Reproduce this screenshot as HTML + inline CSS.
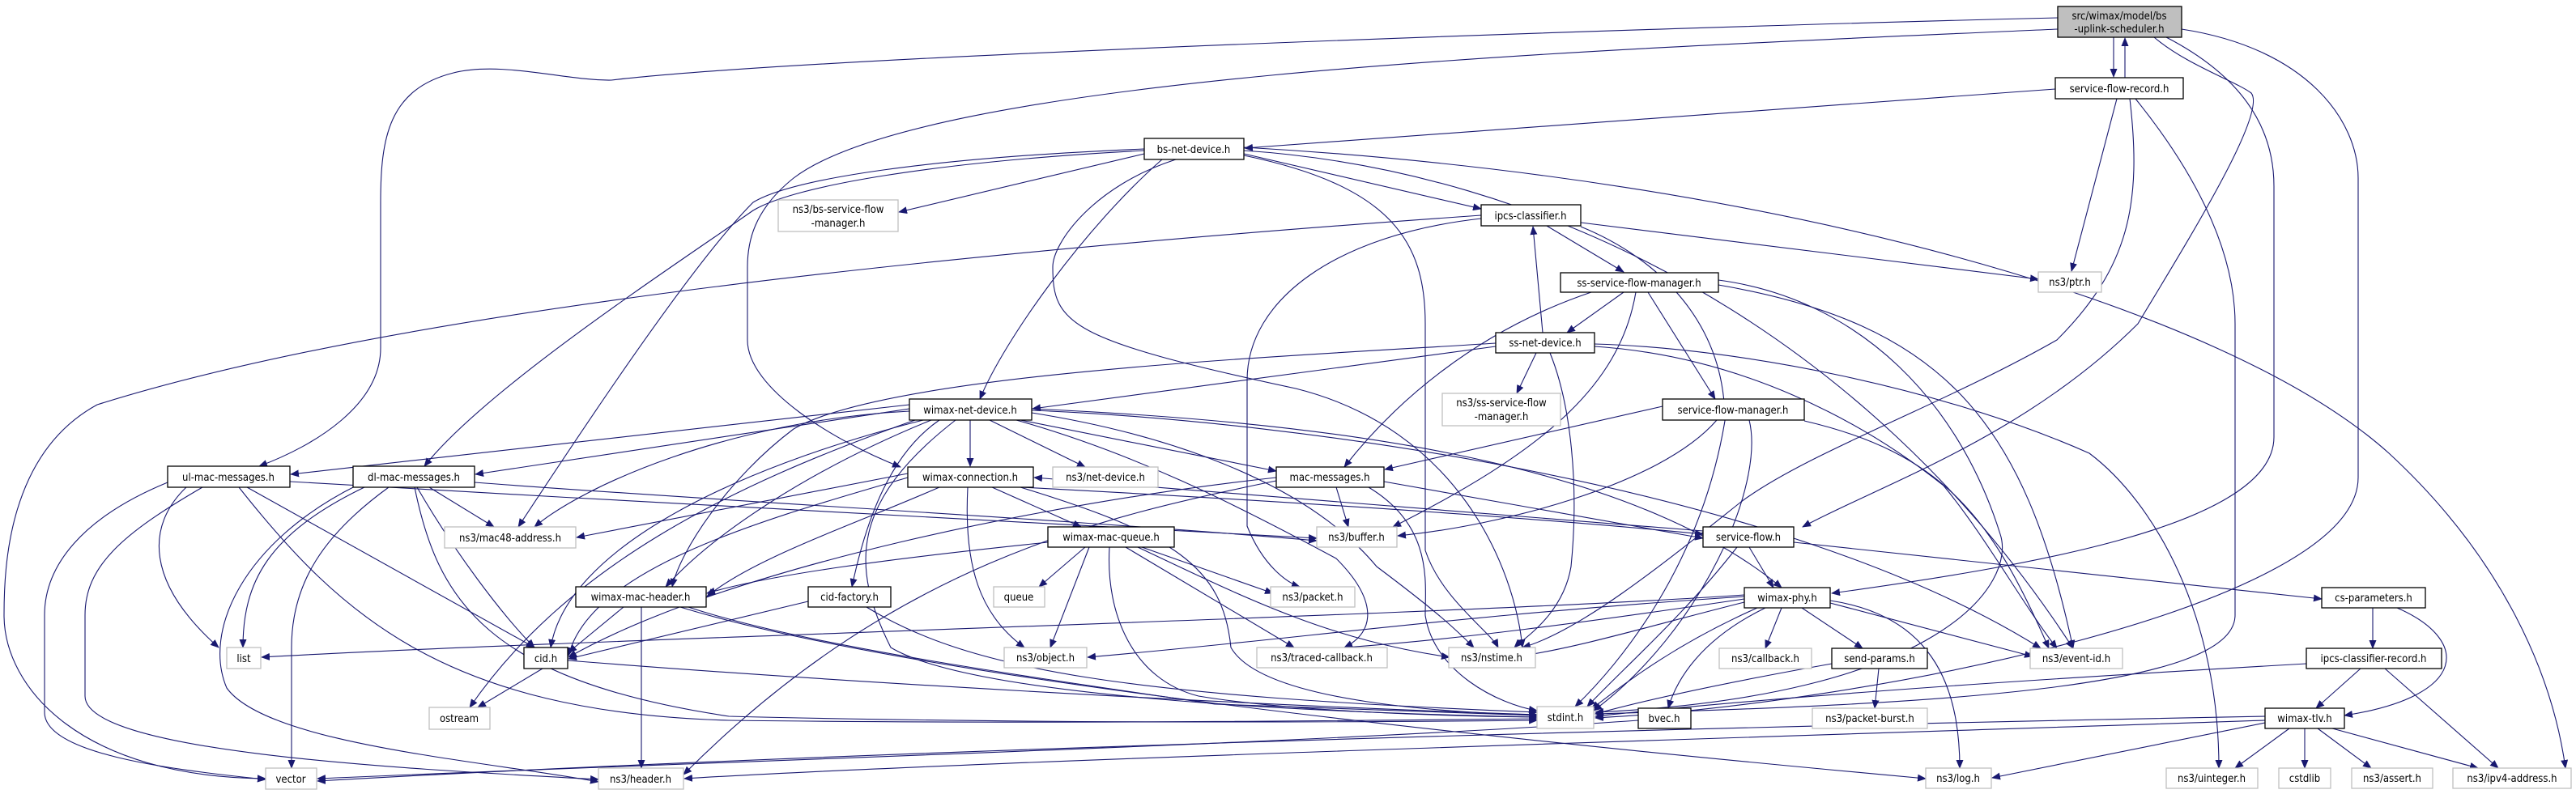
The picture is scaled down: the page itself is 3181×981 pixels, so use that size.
<!DOCTYPE html>
<html><head><meta charset="utf-8">
<style>
html,body{margin:0;padding:0;background:#fff;}
svg{display:block;}
text{font-family:"DejaVu Sans Condensed","DejaVu Sans","Liberation Sans",sans-serif;font-size:13px;fill:#000;}
.e{fill:none;stroke:#191970;stroke-width:1.1;marker-end:url(#a);}
.n{fill:#fff;stroke:#000;stroke-width:1.3;}
.g{fill:#fff;stroke:#bfbfbf;stroke-width:1.3;}
</style></head>
<body>
<svg width="3181" height="981" viewBox="0 0 3181 981" xmlns="http://www.w3.org/2000/svg">
<defs><marker id="a" markerWidth="11" markerHeight="9" refX="10" refY="4.5" orient="auto" markerUnits="userSpaceOnUse"><path d="M0,0 L11,4.5 L0,9z" fill="#191970"/></marker></defs>

<g>
<path class="e" d="M2610,46 L2610,95"/>
<path class="e" d="M2624,96 L2624,47"/>
<path class="e" d="M2541,22 C2000,35 1000,70 755,99 C700,100 620,75 560,90 C480,110 470,170 470,250 L470,430 C470,500 390,550 320,576"/>
<path class="e" d="M2541,36 C2000,60 1150,90 980,220 C930,260 923,300 923,330 L923,420 C923,480 1030,545 1112,577"/>
<path class="e" d="M2660,46 C2700,80 2760,100 2780,115 C2800,140 2700,300 2640,400 C2500,540 2320,600 2226,651"/>
<path class="e" d="M2675,46 C2760,90 2808,150 2808,230 L2808,540 C2808,650 2500,700 2262,733"/>
<path class="e" d="M2694,36 C2850,60 2912,150 2912,220 L2912,590 C2912,750 2300,870 1970,887"/>
<path class="e" d="M2538,110 L1537,183"/>
<path class="e" d="M2614,122 L2558,335"/>
<path class="e" d="M2630,122 C2645,250 2630,330 2540,420 C2400,500 2230,560 2150,620 C2050,700 1950,780 1880,800"/>
<path class="e" d="M2637,122 C2700,200 2760,300 2760,400 L2760,760 C2760,850 2400,870 1970,882"/>
<path class="e" d="M1413,190 L1110,262"/>
<path class="e" d="M1413,186 C1150,200 980,230 930,260 C830,330 600,480 524,576"/>
<path class="e" d="M1413,184 C1150,195 980,220 930,250 C850,330 700,560 640,651"/>
<path class="e" d="M1435,197 C1340,280 1240,420 1210,493"/>
<path class="e" d="M1536,190 L1829,258"/>
<path class="e" d="M1536,192 C1720,230 1760,300 1760,400 L1760,680 C1780,740 1840,780 1850,800"/>
<path class="e" d="M1536,186 C1900,210 2300,400 2560,801"/>
<path class="e" d="M1536,182 C2200,220 2750,380 2950,560 C3080,680 3150,820 3168,949"/>
<path class="e" d="M1452,197 C1350,230 1300,300 1300,330 C1300,400 1320,420 1600,480 C1800,530 1870,700 1880,800"/>
<path class="e" d="M1829,266 C1200,310 500,380 120,500 C10,560 5,700 5,760 C5,850 100,960 328,962"/>
<path class="e" d="M1829,270 C1650,290 1540,370 1540,470 L1540,650 C1560,700 1590,720 1605,725"/>
<path class="e" d="M1910,279 L2005,336"/>
<path class="e" d="M1952,275 L2517,345"/>
<path class="e" d="M1952,280 C2050,320 2130,400 2130,520 C2100,700 2000,820 1945,873"/>
<path class="e" d="M2005,361 L1935,411"/>
<path class="e" d="M1965,361 C1820,410 1720,500 1660,577"/>
<path class="e" d="M2020,361 C2000,480 1900,560 1720,651"/>
<path class="e" d="M2035,361 L2118,493"/>
<path class="e" d="M2122,352 C2400,400 2500,520 2560,801"/>
<path class="e" d="M2122,346 C2300,370 2420,500 2470,660 C2490,720 2400,860 1970,880"/>
<path class="e" d="M1905,411 L1893,280"/>
<path class="e" d="M1847,428 L1275,505"/>
<path class="e" d="M1897,436 L1873,486"/>
<path class="e" d="M1914,436 C1940,500 1950,600 1940,700 C1930,760 1880,790 1870,800"/>
<path class="e" d="M1847,424 C1600,440 1100,460 980,530 C900,590 840,680 830,725"/>
<path class="e" d="M1969,425 C2150,430 2400,480 2580,560 C2660,620 2740,760 2740,949"/>
<path class="e" d="M1969,428 C2150,440 2300,520 2400,600 C2450,660 2500,750 2540,801"/>
<path class="e" d="M2053,502 L1710,580"/>
<path class="e" d="M2120,519 C2050,600 1850,650 1726,662"/>
<path class="e" d="M2228,520 C2400,560 2460,640 2530,801"/>
<path class="e" d="M2160,519 C2180,600 2100,780 1968,878"/>
<path class="e" d="M1123,500 L359,586"/>
<path class="e" d="M1123,505 L587,586"/>
<path class="e" d="M1123,508 C900,520 720,600 660,651"/>
<path class="e" d="M1198,519 L1198,576"/>
<path class="e" d="M1222,519 L1340,577"/>
<path class="e" d="M1260,519 L1576,582"/>
<path class="e" d="M1160,519 C1100,560 1070,640 1052,725"/>
<path class="e" d="M1150,519 C1000,580 880,660 822,725"/>
<path class="e" d="M1140,519 C900,580 700,680 680,800"/>
<path class="e" d="M1130,519 C900,600 700,700 580,874"/>
<path class="e" d="M1274,510 C1400,530 1600,580 1700,700 C1780,760 1800,780 1820,800"/>
<path class="e" d="M1274,505 C1600,520 2000,560 2200,726"/>
<path class="e" d="M1274,507 C1600,520 2200,600 2520,801"/>
<path class="e" d="M1255,519 C1400,560 1520,620 1650,690 C1700,740 1700,780 1660,800"/>
<path class="e" d="M1180,519 C1050,620 1050,700 1100,800 C1200,860 1600,880 1898,886"/>
<path class="e" d="M358,595 C800,620 1300,650 1626,665"/>
<path class="e" d="M230,602 C180,650 180,720 270,800"/>
<path class="e" d="M305,602 L660,800"/>
<path class="e" d="M207,596 C100,640 55,700 55,760 L55,880 C55,930 200,950 328,963"/>
<path class="e" d="M250,602 C150,660 105,700 105,760 L105,860 C105,930 500,950 739,963"/>
<path class="e" d="M295,602 C420,760 550,880 900,890 C1300,895 1700,890 1898,888"/>
<path class="e" d="M530,602 L610,651"/>
<path class="e" d="M450,602 C330,660 300,720 300,800"/>
<path class="e" d="M480,602 C400,660 360,720 360,800 L360,949"/>
<path class="e" d="M515,602 C560,680 620,760 660,800"/>
<path class="e" d="M512,602 C540,740 600,840 900,885 C1300,895 1700,892 1898,890"/>
<path class="e" d="M440,600 C300,670 250,780 280,850 C330,920 600,940 739,966"/>
<path class="e" d="M586,596 C900,620 1300,640 1626,668"/>
<path class="e" d="M1225,602 L1335,651"/>
<path class="e" d="M1195,602 C1190,700 1210,760 1265,800"/>
<path class="e" d="M1262,602 C1600,620 1900,640 2103,660"/>
<path class="e" d="M1121,590 C950,640 730,700 702,810"/>
<path class="e" d="M1121,585 L712,664"/>
<path class="e" d="M1160,602 C1050,650 930,690 873,737"/>
<path class="e" d="M1260,602 C1450,660 1510,700 1520,800 C1560,870 1800,880 1898,884"/>
<path class="e" d="M2103,656 L1277,590"/>
<path class="e" d="M1650,602 L1665,651"/>
<path class="e" d="M1709,595 L2103,665"/>
<path class="e" d="M1690,602 C1770,650 1760,720 1760,760 C1770,830 1850,870 1898,878"/>
<path class="e" d="M1576,590 C1300,620 900,700 702,812"/>
<path class="e" d="M1576,594 C1350,640 1100,700 844,957"/>
<path class="e" d="M1340,676 L1283,725"/>
<path class="e" d="M1345,676 L1297,800"/>
<path class="e" d="M1410,676 L1572,733"/>
<path class="e" d="M1390,676 L1598,800"/>
<path class="e" d="M1405,676 C1540,740 1640,790 1790,812"/>
<path class="e" d="M1370,676 C1365,760 1400,840 1480,860 C1600,880 1800,885 1898,886"/>
<path class="e" d="M1294,670 C1100,690 950,710 873,733"/>
<path class="e" d="M770,750 L702,806"/>
<path class="e" d="M792,750 L792,949"/>
<path class="e" d="M850,750 C1000,800 1300,840 1500,870 C1800,880 1880,884 1898,884"/>
<path class="e" d="M840,750 C1100,830 1700,900 2378,962"/>
<path class="e" d="M998,743 L702,814"/>
<path class="e" d="M1070,750 C1200,830 1400,860 1898,880"/>
<path class="e" d="M670,826 L590,874"/>
<path class="e" d="M701,816 C1000,840 1500,870 1898,883"/>
<path class="e" d="M2160,676 L2190,726"/>
<path class="e" d="M2215,670 L2867,740"/>
<path class="e" d="M2145,676 C2080,760 2000,830 1960,873"/>
<path class="e" d="M2154,735 C1800,760 700,790 323,812"/>
<path class="e" d="M2154,737 C1800,760 1600,790 1343,812"/>
<path class="e" d="M2154,740 C1950,770 1800,790 1660,800"/>
<path class="e" d="M2154,744 C2050,770 1950,800 1880,810"/>
<path class="e" d="M2200,751 L2180,801"/>
<path class="e" d="M2225,751 L2300,801"/>
<path class="e" d="M2260,745 L2510,811"/>
<path class="e" d="M2170,751 C2060,800 2000,850 1965,876"/>
<path class="e" d="M2180,751 C2100,790 2070,840 2060,875"/>
<path class="e" d="M2260,742 C2380,760 2420,840 2420,949"/>
<path class="e" d="M2930,751 L2930,801"/>
<path class="e" d="M2960,751 C3050,790 3050,860 2895,884"/>
<path class="e" d="M2915,826 L2860,875"/>
<path class="e" d="M2945,826 L3085,949"/>
<path class="e" d="M2848,820 C2500,840 2200,860 1970,885"/>
<path class="e" d="M2320,826 L2315,875"/>
<path class="e" d="M2262,820 C2150,840 2050,860 1970,882"/>
<path class="e" d="M2023,890 C1600,920 900,940 392,962"/>
<path class="e" d="M2797,885 C2000,900 1000,930 392,965"/>
<path class="e" d="M2797,890 C2200,910 1200,940 845,962"/>
<path class="e" d="M2797,893 L2460,961"/>
<path class="e" d="M2827,900 L2760,949"/>
<path class="e" d="M2846,900 L2846,949"/>
<path class="e" d="M2862,900 L2928,949"/>
<path class="e" d="M2880,900 L3060,949"/>
</g>

<g>
<rect x="2541" y="8" width="153" height="38" fill="#bfbfbf" stroke="#000" stroke-width="1.3"/>
<text x="2617" y="24" text-anchor="middle">src/wimax/model/bs</text>
<text x="2617" y="40" text-anchor="middle">-uplink-scheduler.h</text>
<rect class="n" x="2538" y="96" width="158" height="26"/><text x="2617" y="114" text-anchor="middle">service-flow-record.h</text>
<rect class="n" x="1413" y="171" width="123" height="26"/><text x="1474" y="189" text-anchor="middle">bs-net-device.h</text>
<rect class="g" x="961" y="247" width="148" height="39"/><text x="1035" y="263" text-anchor="middle">ns3/bs-service-flow</text><text x="1035" y="280" text-anchor="middle">-manager.h</text>
<rect class="n" x="1829" y="253" width="123" height="26"/><text x="1890" y="271" text-anchor="middle">ipcs-classifier.h</text>
<rect class="g" x="2517" y="336" width="78" height="25"/><text x="2556" y="353" text-anchor="middle">ns3/ptr.h</text>
<rect class="n" x="1927" y="337" width="195" height="24"/><text x="2024" y="354" text-anchor="middle">ss-service-flow-manager.h</text>
<rect class="n" x="1847" y="411" width="122" height="25"/><text x="1908" y="428" text-anchor="middle">ss-net-device.h</text>
<rect class="g" x="1781" y="486" width="146" height="40"/><text x="1854" y="502" text-anchor="middle">ns3/ss-service-flow</text><text x="1854" y="519" text-anchor="middle">-manager.h</text>
<rect class="n" x="2053" y="493" width="175" height="26"/><text x="2140" y="511" text-anchor="middle">service-flow-manager.h</text>
<rect class="n" x="1123" y="493" width="151" height="26"/><text x="1198" y="511" text-anchor="middle">wimax-net-device.h</text>
<rect class="n" x="207" y="576" width="151" height="26"/><text x="282" y="594" text-anchor="middle">ul-mac-messages.h</text>
<rect class="n" x="436" y="576" width="150" height="26"/><text x="511" y="594" text-anchor="middle">dl-mac-messages.h</text>
<rect class="n" x="1121" y="577" width="155" height="25"/><text x="1198" y="594" text-anchor="middle">wimax-connection.h</text>
<rect class="g" x="1300" y="577" width="130" height="25"/><text x="1365" y="594" text-anchor="middle">ns3/net-device.h</text>
<rect class="n" x="1576" y="577" width="133" height="25"/><text x="1642" y="594" text-anchor="middle">mac-messages.h</text>
<rect class="g" x="549" y="651" width="162" height="26"/><text x="630" y="669" text-anchor="middle">ns3/mac48-address.h</text>
<rect class="n" x="1294" y="651" width="156" height="25"/><text x="1372" y="668" text-anchor="middle">wimax-mac-queue.h</text>
<rect class="g" x="1626" y="651" width="99" height="25"/><text x="1675" y="668" text-anchor="middle">ns3/buffer.h</text>
<rect class="n" x="2103" y="651" width="112" height="25"/><text x="2159" y="668" text-anchor="middle">service-flow.h</text>
<rect class="n" x="711" y="725" width="161" height="25"/><text x="791" y="742" text-anchor="middle">wimax-mac-header.h</text>
<rect class="n" x="998" y="725" width="102" height="25"/><text x="1049" y="742" text-anchor="middle">cid-factory.h</text>
<rect class="g" x="1227" y="725" width="63" height="25"/><text x="1258" y="742" text-anchor="middle">queue</text>
<rect class="g" x="1569" y="725" width="104" height="25"/><text x="1621" y="742" text-anchor="middle">ns3/packet.h</text>
<rect class="n" x="2154" y="726" width="106" height="25"/><text x="2207" y="743" text-anchor="middle">wimax-phy.h</text>
<rect class="n" x="2867" y="726" width="128" height="25"/><text x="2931" y="743" text-anchor="middle">cs-parameters.h</text>
<rect class="g" x="280" y="800" width="42" height="26"/><text x="301" y="818" text-anchor="middle">list</text>
<rect class="n" x="647" y="800" width="54" height="26"/><text x="674" y="818" text-anchor="middle">cid.h</text>
<rect class="g" x="1240" y="800" width="102" height="25"/><text x="1291" y="817" text-anchor="middle">ns3/object.h</text>
<rect class="g" x="1552" y="800" width="161" height="25"/><text x="1632" y="817" text-anchor="middle">ns3/traced-callback.h</text>
<rect class="g" x="1789" y="800" width="107" height="25"/><text x="1842" y="817" text-anchor="middle">ns3/nstime.h</text>
<rect class="g" x="2123" y="801" width="114" height="25"/><text x="2180" y="818" text-anchor="middle">ns3/callback.h</text>
<rect class="n" x="2262" y="801" width="118" height="25"/><text x="2321" y="818" text-anchor="middle">send-params.h</text>
<rect class="g" x="2507" y="801" width="114" height="25"/><text x="2564" y="818" text-anchor="middle">ns3/event-id.h</text>
<rect class="n" x="2848" y="801" width="167" height="25"/><text x="2931" y="818" text-anchor="middle">ipcs-classifier-record.h</text>
<rect class="g" x="530" y="874" width="75" height="27"/><text x="567" y="892" text-anchor="middle">ostream</text>
<rect class="g" x="1898" y="873" width="70" height="27"/><text x="1933" y="891" text-anchor="middle">stdint.h</text>
<rect class="n" x="2023" y="875" width="65" height="25"/><text x="2055" y="892" text-anchor="middle">bvec.h</text>
<rect class="g" x="2238" y="875" width="142" height="25"/><text x="2309" y="892" text-anchor="middle">ns3/packet-burst.h</text>
<rect class="n" x="2797" y="875" width="98" height="25"/><text x="2846" y="892" text-anchor="middle">wimax-tlv.h</text>
<rect class="g" x="328" y="949" width="63" height="26"/><text x="359" y="967" text-anchor="middle">vector</text>
<rect class="g" x="739" y="949" width="105" height="26"/><text x="791" y="967" text-anchor="middle">ns3/header.h</text>
<rect class="g" x="2378" y="949" width="81" height="25"/><text x="2418" y="966" text-anchor="middle">ns3/log.h</text>
<rect class="g" x="2675" y="949" width="113" height="25"/><text x="2731" y="966" text-anchor="middle">ns3/uinteger.h</text>
<rect class="g" x="2814" y="949" width="64" height="25"/><text x="2846" y="966" text-anchor="middle">cstdlib</text>
<rect class="g" x="2904" y="949" width="100" height="25"/><text x="2954" y="966" text-anchor="middle">ns3/assert.h</text>
<rect class="g" x="3029" y="949" width="146" height="25"/><text x="3102" y="966" text-anchor="middle">ns3/ipv4-address.h</text>
</g>
</svg>
</body></html>
